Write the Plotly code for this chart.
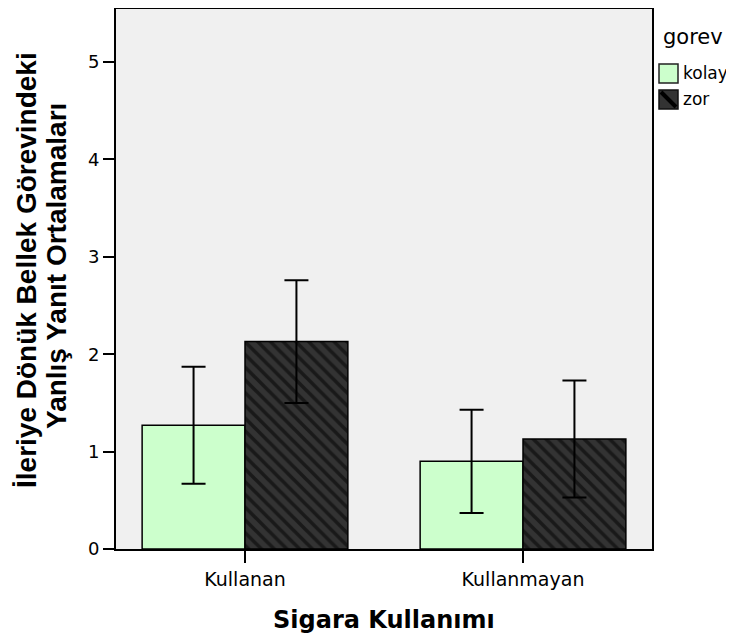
import plotly.graph_objects as go

categories = ["Kullanan", "Kullanmayan"]
kolay_mean = [1.27, 0.90]
kolay_err = [0.60, 0.53]
zor_mean = [2.13, 1.13]
zor_err = [0.63, 0.60]
y_ticks = [0, 1, 2, 3, 4, 5]
legend_title = "gorev"
series_names = ["kolay", "zor"]

# page body has an 8px margin; positions below are given in screenshot pixels
OFF = 8
L, R, T, B = 116, 652, 9, 549
W, H = 734 - OFF, 643 - OFF
def px(x):
    return (x - L) / (R - L)
def py(y):
    return (B - y) / (B - T)

fig = go.Figure()
fig.add_trace(go.Bar(
    name=series_names[0], x=categories, y=kolay_mean, showlegend=False,
    marker=dict(color="#CCFFCC", line=dict(color="black", width=1.5)),
    error_y=dict(type="data", array=kolay_err, color="black", thickness=2, width=12),
))
fig.add_trace(go.Bar(
    name=series_names[1], x=categories, y=zor_mean, showlegend=False,
    marker=dict(color="#333333", line=dict(color="black", width=1.5),
                pattern=dict(shape="\\", fgcolor="black", bgcolor="#333333", size=9, solidity=0.4)),
    error_y=dict(type="data", array=zor_err, color="black", thickness=2, width=12),
))

shapes = [
    dict(type="rect", xref="paper", yref="paper", x0=px(659), x1=px(678), y0=py(83), y1=py(64),
         fillcolor="#CCFFCC", line=dict(color="#222222", width=1.5)),
    dict(type="rect", xref="paper", yref="paper", x0=px(659), x1=px(678), y0=py(109), y1=py(90),
         fillcolor="#333333", line=dict(color="#111111", width=1.5)),
    dict(type="line", xref="paper", yref="paper", x0=px(661), x1=px(676), y0=py(92), y1=py(107),
         line=dict(color="black", width=4)),
]
annotations = [
    dict(text=legend_title, xref="paper", yref="paper", x=px(661), y=py(37), xanchor="left", yanchor="middle",
         showarrow=False, font=dict(family="DejaVu Sans", size=21, color="black")),
    dict(text=series_names[0], xref="paper", yref="paper", x=px(681), y=py(73), xanchor="left", yanchor="middle",
         showarrow=False, font=dict(family="DejaVu Sans", size=17, color="black")),
    dict(text=series_names[1], xref="paper", yref="paper", x=px(681), y=py(99), xanchor="left", yanchor="middle",
         showarrow=False, font=dict(family="DejaVu Sans", size=17, color="black")),
    dict(text="<b>İleriye Dönük Bellek Görevindeki</b>", xref="paper", yref="paper", x=px(26), y=py(270),
         xanchor="center", yanchor="middle", textangle=-90, showarrow=False,
         font=dict(family="Liberation Sans", size=28, color="black")),
    dict(text="<b>Yanlış Yanıt Ortalamaları</b>", xref="paper", yref="paper", x=px(56), y=py(266),
         xanchor="center", yanchor="middle", textangle=-90, showarrow=False,
         font=dict(family="Liberation Sans", size=28, color="black")),
    dict(text="<b>Sigara Kullanımı</b>", xref="paper", yref="paper", x=0.5, y=py(620),
         xanchor="center", yanchor="middle", showarrow=False,
         font=dict(family="DejaVu Sans", size=24, color="black")),
]

fig.update_layout(
    width=W, height=H,
    margin=dict(l=L - OFF, r=734 - R, t=T - OFF, b=643 - B),
    paper_bgcolor="white", plot_bgcolor="#F0F0F0",
    barmode="group", bargap=0.26, bargroupgap=0,
    font=dict(family="DejaVu Sans", color="black", size=18),
    showlegend=False,
    shapes=shapes, annotations=annotations,
)
fig.update_xaxes(
    range=[-0.464, 1.464], showline=True, linecolor="black", linewidth=2, mirror=True,
    ticks="outside", ticklen=12, tickwidth=2, tickcolor="black",
    tickfont=dict(family="DejaVu Sans", size=19), showgrid=False, automargin=False,
)
fig.update_yaxes(
    range=[0, 5.544], tickvals=y_ticks, showline=True, linecolor="black", linewidth=2, mirror=True,
    ticks="outside", ticklen=11, tickwidth=2, tickcolor="black",
    tickfont=dict(family="DejaVu Sans", size=18), showgrid=False, zeroline=False, automargin=False,
)

fig.write_html("out.html")
